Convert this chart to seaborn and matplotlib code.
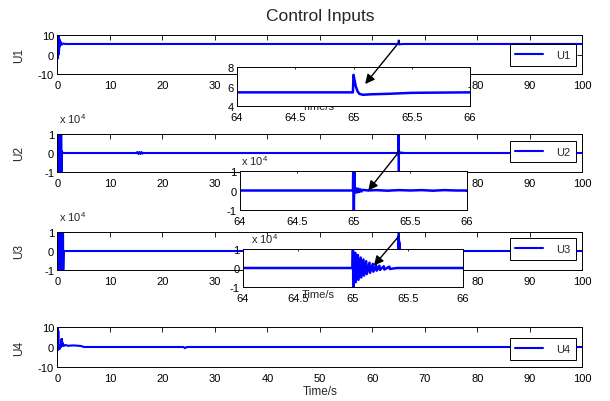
import matplotlib
matplotlib.use("Agg")
import matplotlib.pyplot as plt
import seaborn as sns

# ---------------- data ----------------
TITLE = "Control Inputs"
X_LABEL = "Time/s"
NAMES = ["U1", "U2", "U3", "U4"]
MAIN_XTICKS = [0, 10, 20, 30, 40, 50, 60, 70, 80, 90, 100]
INSET_XTICKS = [64, 64.5, 65, 65.5, 66]
MAIN_YTICKS = [[-10, 0, 10], [-1, 0, 1], [-1, 0, 1], [-10, 0, 10]]
INSET_YTICKS = [[4, 6, 8], [-1, 0, 1], [-1, 0, 1]]
SCALE_TEXT = "x 10$^{4}$"   # U2, U3 are in units of 10^4

U1_T = [0.0, 0.1, 0.15, 0.2, 0.25, 0.3, 0.35, 0.4, 0.45, 0.5, 0.6, 0.8, 1.0, 1.5,
        64.995, 65.0, 65.01, 65.02, 65.035, 65.05, 65.08, 65.15, 65.3, 65.5, 66.0, 100.0]
U1_V = [0.0, -2.0, 10.0, 0.0, 9.0, 2.0, 8.0, 4.0, 7.0, 5.0, 6.5, 5.0, 5.6, 5.4,
        5.4, 7.2, 6.6, 6.0, 5.5, 5.25, 5.15, 5.2, 5.25, 5.35, 5.4, 5.4]

U2_T = [0.0, 0.25, 0.3, 0.35, 0.4, 0.45, 0.5, 0.55, 0.6, 0.65, 0.7, 0.75, 0.8, 1.0,
        15.0, 15.2, 15.4, 15.6, 15.8, 16.0, 16.2, 16.4,
        64.995, 65.0, 65.003, 65.006, 65.01, 65.02, 65.03, 65.04, 65.05, 65.06,
        65.07, 65.08, 65.1, 65.13, 65.2, 65.3, 65.4, 65.5, 65.6, 65.7, 65.8, 65.9, 100.0]
U2_V = [0.0, 0.0, 2.0, -2.0, 2.0, -2.0, 1.8, -1.8, 1.5, -1.5, 1.2, -1.0, 0.1, 0.0,
        0.0, 0.05, -0.05, 0.05, -0.05, 0.05, -0.03, 0.0,
        0.0, 2.0, -2.0, 1.5, -0.12, 0.12, -0.1, 0.1, -0.08, 0.06,
        -0.05, 0.03, 0.02, 0.0, 0.02, -0.01, 0.02, 0.0, 0.02, -0.01, 0.02, 0.0, 0.0]

U3_T = [0.0, 0.2, 0.25, 0.3, 0.35, 0.4, 0.45, 0.5, 0.55, 0.6, 0.65, 0.7, 0.75, 0.8,
        0.85, 0.9, 0.95, 1.0, 1.05, 1.1, 1.2,
        64.995, 65.0, 65.003, 65.006, 65.02, 65.025, 65.045, 65.05, 65.07, 65.075,
        65.095, 65.1, 65.12, 65.125, 65.15, 65.155, 65.18, 65.185, 65.21, 65.215,
        65.24, 65.245, 65.28, 65.285, 65.33, 65.335, 65.4, 65.6, 100.0]
U3_V = [0.0, 0.0, 2.0, -2.0, 2.0, -2.0, 2.0, -2.0, 2.0, -2.0, 2.0, -2.0, 2.0, -2.0,
        1.8, -1.8, 1.5, -1.5, 1.2, -1.0, 0.0,
        0.0, 2.0, -2.0, 0.0, 0.8, -0.75, 0.68, -0.62, 0.55, -0.5,
        0.45, -0.4, 0.36, -0.32, 0.28, -0.25, 0.22, -0.19, 0.16, -0.14,
        0.12, -0.1, 0.09, -0.08, 0.07, -0.05, 0.0, 0.0, 0.0]

U4_T = [0.0, 0.05, 0.1, 0.15, 0.2, 0.3, 0.4, 0.5, 0.6, 0.7, 0.75, 0.8, 0.85, 0.9,
        1.0, 1.2, 1.5, 2.0, 3.0, 4.5, 5.0, 24.0, 24.3, 24.6, 100.0]
U4_V = [0.0, 10.0, -1.5, 8.0, 0.0, 1.0, -1.0, 0.5, 1.0, 0.0, 4.0, 0.5, 4.0, 1.0,
        2.0, 0.5, 1.0, 0.6, 0.8, 0.5, 0.0, 0.0, -0.6, 0.0, 0.0]

SERIES = [(U1_T, U1_V), (U2_T, U2_V), (U3_T, U3_V), (U4_T, U4_V)]

# arrows: (tail on main axes, head on inset axes) in data coordinates
ARROW_TAILS = [(65.15, 6.6), (65.15, 0.1), (64.9, 0.74)]
ARROW_HEADS = [(65.1, 6.25), (65.13, 0.0), (65.19, 0.13)]

# ---------------- style / layout ----------------
sns.set_style("white")
plt.rcParams["font.family"] = ["Liberation Sans", "DejaVu Sans"]
plt.rcParams["mathtext.fontset"] = "custom"
plt.rcParams["mathtext.rm"] = "Liberation Sans"
plt.rcParams["mathtext.it"] = "Liberation Sans:italic"
plt.rcParams["mathtext.bf"] = "Liberation Sans:bold"

W, H = 610, 402
fig = plt.figure(figsize=(W / 100, H / 100), dpi=100)
fig.patch.set_facecolor("white")


def rect(x0, y0, x1, y1):
    return [x0 / W, 1 - y1 / H, (x1 - x0) / W, (y1 - y0) / H]


MAIN_BOX = [(57.5, 36, 582.5, 75), (57.5, 135, 582.5, 173),
            (57.5, 233, 582.5, 271), (57.5, 328, 582.5, 368)]
INSET_BOX = [(237, 68, 470, 107), (240, 172, 467, 211), (243, 250, 463, 288)]
LEGEND_CENTER = [(543, 56), (543, 152.5), (543, 250), (543, 350)]
BLUE = "#0000ff"
FS = 8


def style_axes(ax, ticklen):
    for s in ax.spines.values():
        s.set_visible(True)
        s.set_color("black")
        s.set_linewidth(0.7)
    ax.tick_params(axis="both", direction="in", top=True, right=True,
                   length=ticklen, width=0.6, labelsize=FS, colors="black")
    ax.tick_params(axis="x", pad=4)
    ax.tick_params(axis="y", pad=2.5)
    ax.set_facecolor("white")
    ax.grid(False)


main_axes = []
for i, (t, v) in enumerate(SERIES):
    ax = fig.add_axes(rect(*MAIN_BOX[i]))
    sns.lineplot(x=t, y=v, ax=ax, color=BLUE, linewidth=1.5,
                 estimator=None, sort=False, label=NAMES[i])
    ax.set_xlim(0, 100)
    yt = MAIN_YTICKS[i]
    ax.set_ylim(yt[0], yt[-1])
    ax.set_xticks(MAIN_XTICKS)
    ax.set_yticks(yt)
    ax.set_xticklabels([str(x) for x in MAIN_XTICKS])
    ax.set_yticklabels([str(y) for y in yt])
    style_axes(ax, 3.8)
    ax.set_ylabel(NAMES[i], fontsize=8.5)
    ax.yaxis.set_label_coords(-0.062, 0.5)
    ax.set_xlabel("")
    cx, cy = LEGEND_CENTER[i]
    leg = ax.legend(loc="center", bbox_to_anchor=(cx / W, 1 - cy / H),
                    bbox_transform=fig.transFigure, fontsize=FS,
                    handlelength=2.5, handletextpad=1.2, borderpad=0.5,
                    fancybox=False, framealpha=1, edgecolor="black")
    leg.get_frame().set_linewidth(0.7)
    if i in (1, 2):
        ax.annotate(SCALE_TEXT, xy=(0, 1), xycoords="axes fraction",
                    xytext=(1, 8), textcoords="offset points",
                    va="baseline", ha="left", fontsize=FS)
    main_axes.append(ax)

main_axes[3].set_xlabel(X_LABEL, fontsize=8.5, va="center")
main_axes[3].xaxis.set_label_coords(0.5, -(392 - 368) / 40)

fig.text(320 / W, 1 - 17 / H, TITLE, ha="center", va="center", fontsize=12.5)

# partially hidden inset x-label behind first inset (drawn before axes)
fig.text(318 / W, 1 - 106.5 / H, X_LABEL, ha="center", va="center",
         fontsize=FS, zorder=-1)

inset_axes = []
for i in range(3):
    t, v = SERIES[i]
    ax = fig.add_axes(rect(*INSET_BOX[i]))
    sns.lineplot(x=t, y=v, ax=ax, color=BLUE, linewidth=1.8,
                 estimator=None, sort=False, legend=False)
    ax.set_xlim(64, 66)
    yt = INSET_YTICKS[i]
    ax.set_ylim(yt[0], yt[-1])
    ax.set_xticks(INSET_XTICKS)
    ax.set_yticks(yt)
    ax.set_xticklabels(["64", "64.5", "65", "65.5", "66"])
    ax.set_yticklabels([str(y) for y in yt])
    style_axes(ax, 1.7)
    ax.set_xlabel("")
    ax.set_ylabel("")
    if i in (1, 2):
        ax.annotate(SCALE_TEXT, xy=(0, 1), xycoords="axes fraction",
                    xytext=(1 if i == 1 else 6, 4), textcoords="offset points",
                    va="baseline", ha="left", fontsize=FS)
    ax.annotate("", xy=ARROW_HEADS[i], xycoords=ax.transData,
                xytext=ARROW_TAILS[i], textcoords=main_axes[i].transData,
                arrowprops=dict(arrowstyle="-|>", color="black", lw=1.0,
                                mutation_scale=14, shrinkA=0, shrinkB=0),
                annotation_clip=False)
    inset_axes.append(ax)

# x-label of the third inset overlapping its tick labels (as in the reference)
fig.text(318 / W, 1 - 295 / H, X_LABEL, ha="center", va="center", fontsize=FS)

fig.savefig("out.png", dpi=100, facecolor="white")
